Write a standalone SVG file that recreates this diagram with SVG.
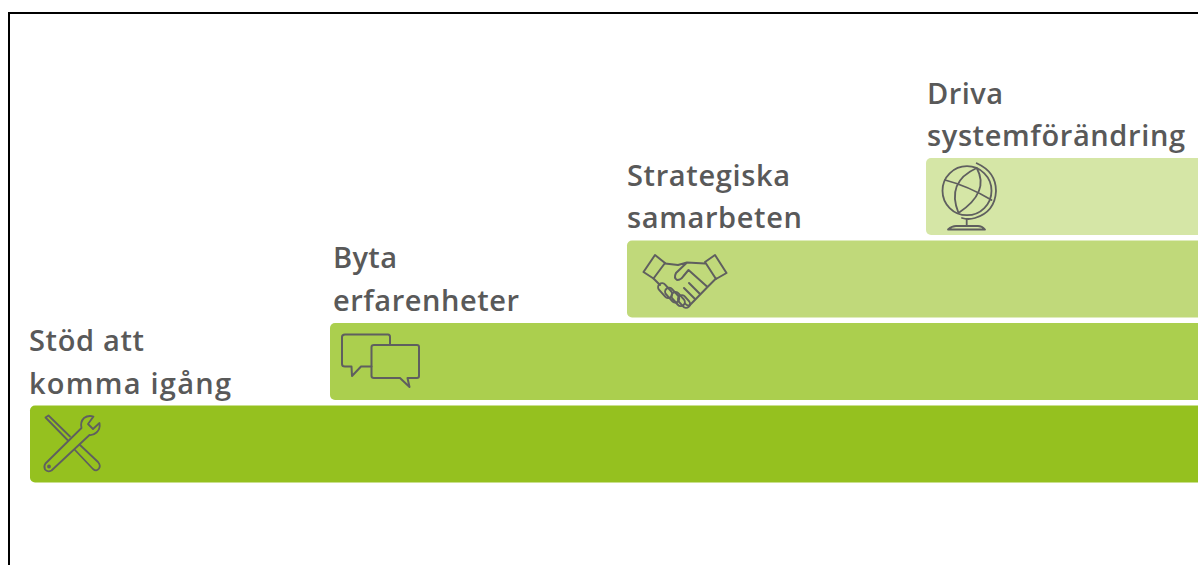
<svg xmlns="http://www.w3.org/2000/svg" width="1198" height="565" viewBox="0 0 1198 565">
<style>
.lbl{font-family:"Open Sans","Noto Sans","Liberation Sans",sans-serif;font-weight:600;font-size:29px;fill:#595959}
.ico{fill:none;stroke:#5f5f5f;stroke-width:2;stroke-linejoin:round;stroke-linecap:round}
.thin{stroke-width:1.800}
</style>
<rect width="1198" height="565" fill="#fff"/>
<path d="M9 565V13H1198" fill="none" stroke="#000" stroke-width="2"/>
<g id="step1">
<rect x="30" y="405.500" width="1190" height="77" rx="5" fill="#95c11f"/>
<text class="lbl" x="29" y="351" textLength="115">Stöd att</text>
<text class="lbl" x="29" y="394" textLength="202">komma igång</text>
<g class="ico thin">
<path d="M45.500 417.500L48.500 415.500L70 436.500M45.500 417.500L67.500 440M75 450L93 469Q96.500 472 99 468.500Q101 465.500 98 462L79.500 444.500"/>
<path d="M45.500 463.500L81.500 428Q80 422 84 418Q88 415 93.500 416.500L88 424L93 429L99.500 423Q100.500 429 96.500 432.500Q93 435.500 89.500 435L51.500 470.500Q47.500 472.500 45 469.500Q43.500 466 45.500 463.500Z"/>
<circle cx="49" cy="466.500" r="1"/>
</g>
</g>
<g id="step2">
<rect x="330" y="323" width="880" height="77" rx="5" fill="#abcf4e"/>
<text class="lbl" x="333" y="268" textLength="64">Byta</text>
<text class="lbl" x="333" y="311" textLength="186">erfarenheter</text>
<g class="ico">
<path d="M390 345V337Q390 334.500 388 334.500H345Q342 334.500 342 337V364Q342 366.500 345 366.500H351.500L352 376L361 366.500H371.500"/>
<path d="M374 345H417Q419 345 419 347V376Q419 378 417 378H407.500L409.500 387L400 378H374Q371.500 378 371.500 376V347Q371.500 345 374 345Z"/>
</g>
</g>
<g id="step3">
<rect x="627" y="240.500" width="590" height="77" rx="5" fill="#c0d97a"/>
<text class="lbl" x="627" y="186" textLength="163">Strategiska</text>
<text class="lbl" x="627" y="228" textLength="175">samarbeten</text>
<g class="ico">
<path d="M655 255L665 263L653.500 278.500L643.500 272Z"/>
<path d="M715 255L726.500 273L716 279L705 262Z"/>
<path d="M665 263.500L678 265L687 262.500L705 263.500M687 262.500L676 273Q673.500 278 677 280Q681 280 683.500 276L688.500 270L707.500 287L689.500 305.500Q687 306 685 303.500M707.500 287L716 278.500M653.500 278.500L660 285"/>
<path d="M700 294L689 283M695 299L684 288"/>
<rect x="656.500" y="286.500" width="17" height="8" rx="4" transform="rotate(48 665 290.700)"/>
<rect x="663.500" y="291" width="17" height="8" rx="4" transform="rotate(48 672 295.200)"/>
<rect x="670" y="295" width="16" height="8" rx="4" transform="rotate(48 678 299.200)"/>
<rect x="677" y="297.500" width="14" height="8" rx="4" transform="rotate(48 684 301.500)"/>
</g>
</g>
<g id="step4">
<rect x="926" y="158" width="290" height="77" rx="5" fill="#d5e6a6"/>
<text class="lbl" x="927" y="104" textLength="76">Driva</text>
<text class="lbl" x="927" y="146" textLength="258">systemförändring</text>
<g class="ico thin">
<circle cx="967" cy="190.700" r="24.500"/>
<path d="M976.700 168Q946 182 958.500 213M976.700 168Q990 192 958.500 213"/>
<path d="M945 180Q968 186 991.500 200"/>
<path d="M976.700 163.300Q996 172 996 191Q995 212 975 218Q968 220 962 218"/>
<path d="M966.700 219V226M948 229.500Q952 226 956 226H978Q982 226 985 229.500Z"/>
</g>
</g>
</svg>
